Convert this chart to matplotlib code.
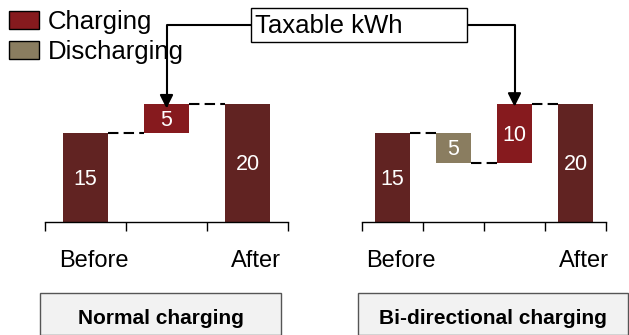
import matplotlib

matplotlib.use("Agg")
import matplotlib.pyplot as plt  # noqa: E402
from matplotlib.patches import Patch, Rectangle  # noqa: E402

plt.rcParams["font.family"] = ["Liberation Sans", "DejaVu Sans"]

W, H = 629, 335
TOTAL = "#612322"
CHARGE = "#861a1e"
DISCHARGE = "#8a7d60"
COLORS = {"total": TOTAL, "charge": CHARGE, "discharge": DISCHARGE}

normal_labels = ["Before", "", "After"]
normal_steps = [15, 5, 20]
normal_kinds = ["total", "charge", "total"]

bidir_labels = ["Before", "", "", "After"]
bidir_steps = [15, -5, 10, 20]
bidir_kinds = ["total", "discharge", "charge", "total"]

YMAX = 24.0
BAR_W = 0.56


def px(x0, y0, w, h):
    """pixel rect (top-left origin) -> figure fraction rect"""
    return [x0 / W, 1 - (y0 + h) / H, w / W, h / H]


def waterfall(ax, labels, steps, kinds, label_shift):
    n = len(steps)
    level = 0
    charge_tops = []
    for i, (v, k) in enumerate(zip(steps, kinds)):
        if k == "total":
            bottom, height = 0, v
            level = v
        else:
            bottom, height = min(level, level + v), abs(v)
            level = level + v
        ax.bar(i + 0.5, height, bottom=bottom, width=BAR_W, color=COLORS[k], zorder=2)
        ax.text(i + 0.5, bottom + height / 2 - 0.3, f"{abs(v)}", ha="center", va="center",
                color="white", fontsize=15.5, zorder=3)
        if k == "charge":
            charge_tops.append((i + 0.5, bottom + height))
        if i < n - 1:
            ax.plot([i + 0.5 + BAR_W / 2, i + 1.5 - BAR_W / 2], [level, level],
                    color="black", lw=1.5, dashes=(5, 2.5), zorder=1)
    ax.set_xlim(0, n)
    ax.set_ylim(0, YMAX)
    for s in ("top", "left", "right"):
        ax.spines[s].set_visible(False)
    ax.spines["bottom"].set_linewidth(1.0)
    ax.set_yticks([])
    ax.set_xticks(range(n + 1), minor=True)
    ax.tick_params(axis="x", which="minor", length=6.5, width=1.0, direction="out")
    ax.set_xticks([i + 0.5 + label_shift for i in range(n)])
    ax.set_xticklabels(labels, fontsize=17)
    ax.tick_params(axis="x", which="major", length=0, pad=20)
    return charge_tops


fig = plt.figure(figsize=(W / 100, H / 100), dpi=100)

ax1 = fig.add_axes(px(45, 80, 243, 142))
ax2 = fig.add_axes(px(362, 80, 244, 142))
tops1 = waterfall(ax1, normal_labels, normal_steps, normal_kinds, 0.1)
tops2 = waterfall(ax2, bidir_labels, bidir_steps, bidir_kinds, 0.14)

# legend
fig.legend(
    handles=[Patch(facecolor=CHARGE, edgecolor="black", label="Charging"),
             Patch(facecolor=DISCHARGE, edgecolor="black", label="Discharging")],
    loc="upper left", bbox_to_anchor=(9 / W, 1 - 10 / H), frameon=False,
    fontsize=18.5, handlelength=1.15, handleheight=0.7, handletextpad=0.35,
    labelspacing=0.25, borderpad=0, borderaxespad=0,
)

# callout box
fig.add_artist(Rectangle((251 / W, 1 - 42 / H), 216 / W, 34 / H, transform=fig.transFigure,
                         facecolor="white", edgecolor="black", lw=1.0, zorder=5))
fig.text(255 / W, 1 - 26 / H, "Taxable kWh", ha="left", va="center", fontsize=18.5, zorder=6)

arrow = dict(arrowstyle="-|>", connectionstyle="angle,angleA=0,angleB=90,rad=0",
             color="black", lw=1.5, mutation_scale=20, shrinkA=0, shrinkB=0)
x, top = tops1[0]
ax1.annotate("", xy=(x, top - 0.8), xytext=(251 / W, 1 - 25 / H), textcoords="figure fraction",
             arrowprops=arrow, annotation_clip=False, zorder=4)
x, top = tops2[0]
ax2.annotate("", xy=(x, top - 0.5), xytext=(467 / W, 1 - 25 / H), textcoords="figure fraction",
             arrowprops=arrow, annotation_clip=False, zorder=4)

# panel captions
for (x0, w, label) in [(40, 241, "Normal charging"), (358, 270, "Bi-directional charging")]:
    fig.add_artist(Rectangle((x0 / W, 0), w / W, 42 / H, transform=fig.transFigure,
                             facecolor="#f2f2f2", edgecolor="#555555", lw=1.0))
    fig.text((x0 + w / 2) / W, 17 / H, label, ha="center", va="center",
             fontsize=15, fontweight="bold")

fig.savefig("out.png", dpi=100, facecolor="white")
